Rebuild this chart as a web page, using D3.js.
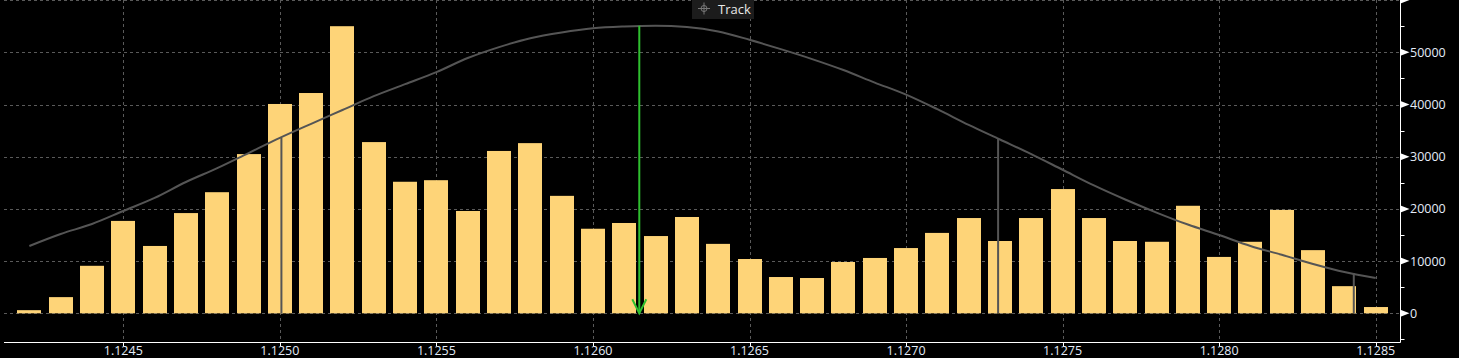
<!DOCTYPE html>
<html><head><meta charset="utf-8">
<script src="https://cdn.jsdelivr.net/npm/d3@7"></script>
<style>html,body{margin:0;padding:0;background:#000;overflow:hidden}svg{display:block}</style>
</head><body>
<script>
// Price levels (bar centers) and volumes
const prices = [1.1242,1.1243,1.1244,1.1245,1.1246,1.1247,1.1248,1.1249,1.1250,1.1251,1.1252,1.1253,1.1254,1.1255,1.1256,1.1257,1.1258,1.1259,1.1260,1.1261,1.1262,1.1263,1.1264,1.1265,1.1266,1.1267,1.1268,1.1269,1.1270,1.1271,1.1272,1.1273,1.1274,1.1275,1.1276,1.1277,1.1278,1.1279,1.1280,1.1281,1.1282,1.1283,1.1284,1.1285];
const volumes = [600,3100,9100,17700,12900,19200,23200,30500,40100,42200,55000,32800,25200,25500,19600,31100,32600,22500,16200,17300,14800,18450,13300,10400,6950,6760,9830,10600,12500,15400,18250,13850,18250,23800,18250,13850,13700,20600,10800,13700,19800,12100,5200,1200];
// Fitted distribution curve, read at each price level
const curve = [12900,15200,17100,19600,22100,25150,27800,30700,33600,36300,38950,41600,43900,46200,48900,51000,52700,53800,54600,54950,55100,54850,54000,52400,50600,48700,46600,44200,41900,39100,36100,33300,30500,27500,24500,21800,19300,17000,15000,12900,11200,9450,7900,6750];
const meanLine = {price:1.126148, value:55100};
const sigmaLines = [{price:1.125005, value:33600},{price:1.127294, value:33600},{price:1.12843, value:7700}];
const xTicks = [1.1245,1.1250,1.1255,1.1260,1.1265,1.1270,1.1275,1.1280,1.1285];
const yTicks = [0,10000,20000,30000,40000,50000,60000];
const yMinor = [-5000,5000,15000,25000,35000,45000,55000];

const W=1459,H=358;
const svg=d3.select("body").append("svg").attr("width",W).attr("height",H).style("background","#000");
const x=d3.scaleLinear().domain([1.1245,1.1285]).range([123.3,1375.7]);
const y=d3.scaleLinear().domain([0,60000]).range([313.3,0.1]);
const left=4, right=1400.5, axisY=342.5;
const font="'Open Sans', sans-serif";

// grid
const g=svg.append("g");
g.selectAll(".hg").data(yTicks).join("line")
 .attr("x1",left).attr("x2",right).attr("y1",d=>Math.round(y(d))+0.5).attr("y2",d=>Math.round(y(d))+0.5)
 .attr("stroke","#5a5a5a").attr("stroke-dasharray","3,3");
g.selectAll(".vg").data(xTicks).join("line")
 .attr("x1",d=>Math.round(x(d))+0.5).attr("x2",d=>Math.round(x(d))+0.5).attr("y1",0).attr("y2",axisY)
 .attr("stroke","#5a5a5a").attr("stroke-dasharray","3,3");

// bars
const bw=24;
svg.append("g").selectAll("rect").data(prices).join("rect")
 .attr("x",(d)=>Math.round(x(d)-bw/2)).attr("width",bw)
 .attr("y",(d,i)=>y(volumes[i])).attr("height",(d,i)=>y(0)-y(volumes[i]))
 .attr("fill","#fed478");

// curve
const line=d3.line().x((d,i)=>x(prices[i])).y(d=>y(d)).curve(d3.curveMonotoneX);
svg.append("path").datum(curve).attr("d",line).attr("fill","none").attr("stroke","#555").attr("stroke-width",2);

// sigma lines
svg.append("g").selectAll("line").data(sigmaLines).join("line")
 .attr("x1",d=>x(d.price)).attr("x2",d=>x(d.price)).attr("y1",d=>y(d.value)).attr("y2",y(0))
 .attr("stroke","#555").attr("stroke-width",2);

// mean line (green arrow)
const mx=x(meanLine.price);
svg.append("line").attr("x1",mx).attr("x2",mx).attr("y1",y(meanLine.value)).attr("y2",y(0))
 .attr("stroke","#2fbf2f").attr("stroke-width",2);
svg.append("path").attr("d",`M${mx-7},${y(0)-14}L${mx},${y(0)}L${mx+7},${y(0)-14}`)
 .attr("fill","none").attr("stroke","#2fbf2f").attr("stroke-width",2);

// bottom axis
const ax=svg.append("g");
ax.append("line").attr("x1",left).attr("x2",right).attr("y1",axisY).attr("y2",axisY).attr("stroke","#fff");
ax.selectAll(".xt").data(xTicks).join("line")
 .attr("x1",d=>Math.round(x(d))+0.5).attr("x2",d=>Math.round(x(d))+0.5).attr("y1",axisY).attr("y2",axisY+4).attr("stroke","#fff");
ax.selectAll(".xl").data(xTicks).join("text")
 .attr("x",d=>x(d)).attr("y",355).attr("text-anchor","middle")
 .attr("font-family",font).attr("font-size","12.5px").attr("fill","#e4ecf8")
 .text(d=>d3.format(".4f")(d));

// right axis
const ay=svg.append("g");
ay.append("line").attr("x1",right).attr("x2",right).attr("y1",0).attr("y2",axisY).attr("stroke","#fff");
ay.selectAll(".ym").data(yMinor).join("line")
 .attr("x1",right).attr("x2",right+4).attr("y1",d=>Math.round(y(d))+0.5).attr("y2",d=>Math.round(y(d))+0.5).attr("stroke","#fff");
ay.selectAll(".tri").data(yTicks).join("path")
 .attr("d",d=>{const yy=y(d);return `M${right},${yy-3.5}L${right+9},${yy}L${right},${yy+3.5}Z`;})
 .attr("fill","#fff");
ay.selectAll(".yl").data(yTicks.filter(d=>d<60000)).join("text")
 .attr("x",1410).attr("y",d=>y(d)).attr("dy","0.36em")
 .attr("font-family",font).attr("font-size","12.5px").attr("fill","#e4ecf8")
 .text(d=>d);

// Track box
const tb=svg.append("g");
tb.append("rect").attr("x",692).attr("y",0).attr("width",62).attr("height",19).attr("fill","#1c1c1c");
tb.append("circle").attr("cx",704).attr("cy",8.5).attr("r",3).attr("fill","none").attr("stroke","#777");
tb.append("path").attr("d","M698,8.5H710M704,2.5V14.5").attr("stroke","#777").attr("stroke-width",1);
tb.append("text").attr("x",718).attr("y",13.5).attr("font-family",font).attr("font-size","13px").attr("fill","#e8e8e8").text("Track");
</script>
</body></html>
